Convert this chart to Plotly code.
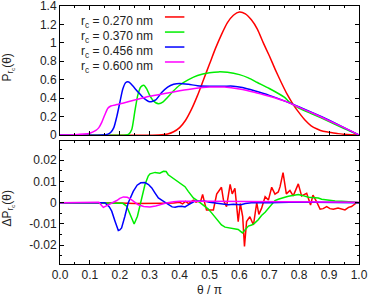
import plotly.graph_objects as go

# ---------------- data ----------------
labels = ["r<sub>c</sub> = 0.270 nm", "r<sub>c</sub> = 0.370 nm",
          "r<sub>c</sub> = 0.456 nm", "r<sub>c</sub> = 0.600 nm"]
colors = ["#ff0000", "#00ee00", "#0000ff", "#ff00ff"]

# top panel: P_rc(theta)
red_x = [0, 0.33, 0.36, 0.38, 0.40, 0.42, 0.44, 0.46, 0.48, 0.50, 0.52, 0.54, 0.56, 0.58, 0.60,
         0.62, 0.64, 0.66, 0.68, 0.70, 0.72, 0.74, 0.76, 0.78, 0.80, 0.82, 0.84, 0.86, 0.88,
         0.90, 0.93, 0.96, 1.0]
red_y = [0, 0, 0.01, 0.035, 0.08, 0.16, 0.28, 0.43, 0.60, 0.77, 0.94, 1.09, 1.22, 1.30, 1.335,
         1.315, 1.25, 1.15, 1.00, 0.86, 0.71, 0.57, 0.44, 0.33, 0.24, 0.16, 0.10, 0.065, 0.04,
         0.03, 0.015, 0.005, 0]

green_x = [0, 0.22, 0.23, 0.24, 0.25, 0.26, 0.27, 0.28, 0.29, 0.30, 0.31, 0.32, 0.33, 0.345,
           0.36, 0.38, 0.40, 0.43, 0.46, 0.50, 0.53, 0.56, 0.60, 0.63, 0.66, 0.70, 0.75, 0.77,
           0.80, 0.85, 0.90, 0.95, 1.0]
green_y = [0, 0, 0.01, 0.06, 0.25, 0.43, 0.52, 0.54, 0.50, 0.43, 0.38, 0.35, 0.34, 0.36,
           0.41, 0.48, 0.54, 0.60, 0.645, 0.675, 0.685, 0.68, 0.655, 0.62, 0.57, 0.505, 0.41, 0.35,
           0.29, 0.22, 0.145, 0.07, 0]

blue_x = [0, 0.14, 0.16, 0.17, 0.18, 0.19, 0.20, 0.21, 0.22, 0.23, 0.24, 0.26, 0.28, 0.30,
          0.32, 0.34, 0.36, 0.38, 0.40, 0.43, 0.46, 0.50, 0.55, 0.58, 0.61, 0.65, 0.70, 0.75,
          0.80, 0.85, 0.90, 0.95, 1.0]
blue_y = [0, 0, 0.01, 0.03, 0.08, 0.2, 0.35, 0.5, 0.57, 0.575, 0.545, 0.47, 0.40, 0.36,
          0.38, 0.46, 0.52, 0.55, 0.56, 0.55, 0.535, 0.53, 0.53, 0.53, 0.515, 0.48, 0.43, 0.37,
          0.305, 0.235, 0.16, 0.08, 0]

mag_x = [0, 0.05, 0.08, 0.10, 0.12, 0.13, 0.14, 0.15, 0.16, 0.17, 0.19, 0.21, 0.25, 0.30,
         0.35, 0.40, 0.45, 0.50, 0.55, 0.60, 0.65, 0.70, 0.75, 0.80, 0.85, 0.90, 0.95, 1.0]
mag_y = [0, 0.003, 0.01, 0.02, 0.05, 0.08, 0.14, 0.22, 0.29, 0.315, 0.33, 0.345, 0.38, 0.42,
         0.45, 0.48, 0.505, 0.52, 0.52, 0.50, 0.465, 0.42, 0.37, 0.30, 0.23, 0.155, 0.08, 0]

# bottom panel: Delta P_rc(theta)
dred_x = [0, 0.15, 0.2, 0.25, 0.3, 0.35, 0.38, 0.40, 0.41, 0.42, 0.43, 0.44, 0.446, 0.455, 0.462,
          0.47, 0.477, 0.485, 0.49, 0.50, 0.513, 0.524, 0.54, 0.547, 0.557, 0.569, 0.576, 0.585,
          0.596, 0.603, 0.611, 0.617, 0.624, 0.635, 0.647, 0.658, 0.665, 0.674, 0.686, 0.697,
          0.708, 0.719, 0.73, 0.736, 0.746, 0.757, 0.769, 0.78, 0.797, 0.808, 0.825, 0.838,
          0.846, 0.858, 0.87, 0.88, 0.892, 0.903, 0.914, 0.93, 0.942, 0.953, 0.965, 0.975,
          0.992, 1.0]
dred_y = [0, 0.0, -0.0002, -0.0004, -0.0005, -0.0003, -0.0002, 0.0002, -0.0006, 0.0006, -0.0004,
          0.0008, 0.0012, 0.0002, 0.0006, 0.0005, 0.0039, -0.0008, -0.0034, -0.0034, -0.0034,
          0.004, 0.0072, 0.001, -0.0019, 0.0086, 0.0041, 0.0067, -0.0089, -0.0004, -0.0066,
          -0.0206, -0.0089, -0.0066, -0.0105, 0.0, -0.0055, -0.0027, 0.0028, 0.0012, 0.0072,
          0.0040, 0.005, 0.0075, 0.0141, 0.0041, 0.0057, 0.0032, 0.0088, 0.0032, 0.0044,
          -0.0011, 0.0035, 0.0005, -0.0031, -0.0028, -0.0019, -0.0028, -0.0031, -0.0025,
          -0.0028, -0.0034, -0.0022, -0.0018, 0.0, 0]

dgreen_x = [0, 0.2, 0.21, 0.223, 0.237, 0.248, 0.259, 0.271, 0.284, 0.295, 0.301, 0.318, 0.334,
            0.346, 0.355, 0.362, 0.373, 0.385, 0.396, 0.407, 0.418, 0.429, 0.446, 0.463, 0.475,
            0.485, 0.496, 0.507, 0.518, 0.529, 0.54, 0.552, 0.563, 0.574, 0.585, 0.596, 0.61,
            0.62, 0.63, 0.641, 0.652, 0.663, 0.674, 0.686, 0.697, 0.708, 0.719, 0.73, 0.741,
            0.752, 0.764, 0.775, 0.786, 0.797, 0.81, 0.82, 0.831, 0.842, 0.853, 0.864, 0.875,
            0.887, 0.898, 0.92, 0.942, 0.96, 0.976, 0.99, 1.0]
dgreen_y = [0, 0, -0.0003, -0.0017, -0.0064, -0.0100, -0.0064, 0.0014, 0.0084, 0.0125, 0.0135,
            0.0142, 0.0138, 0.0147, 0.0146, 0.0131, 0.012, 0.0108, 0.0098, 0.0084, 0.0075,
            0.0053, 0.0022, 0.0006, -0.0008, -0.0017, -0.003, -0.0048, -0.0068, -0.0087,
            -0.0105, -0.0115, -0.0118, -0.0122, -0.0122, -0.0126, -0.0142, -0.0125, -0.011,
            -0.0105, -0.0095, -0.0080, -0.0060, -0.0045, -0.0025, -0.0005, 0.001, 0.0016,
            0.0022, 0.0025, 0.003, 0.0032, 0.0036, 0.0038, 0.0034, 0.0028, 0.0025, 0.0024,
            0.0024, 0.0022, 0.0016, 0.0013, 0.0011, 0.0008, 0.0006, 0.0005, 0.0006, 0.0002, 0]

dblue_x = [0, 0.12, 0.15, 0.165, 0.173, 0.184, 0.195, 0.2, 0.206, 0.217, 0.228, 0.245, 0.258,
           0.27, 0.284, 0.296, 0.307, 0.318, 0.329, 0.34, 0.351, 0.362, 0.375, 0.385, 0.395,
           0.407, 0.418, 0.429, 0.44, 0.45, 0.47, 0.485, 0.5, 0.518, 0.54, 0.563, 0.58, 0.605,
           0.62, 0.64, 0.7, 0.75, 0.8, 0.85, 0.9, 1.0]
dblue_y = [0, 0.0002, 0.0, -0.002, -0.004, -0.0087, -0.0131, -0.0128, -0.0119, -0.0064, -0.0002,
           0.0053, 0.0082, 0.0093, 0.0094, 0.0085, 0.0069, 0.0045, 0.0022, 0.0012, 0.0001,
           -0.001, -0.002, -0.0022, -0.0018, -0.0017, -0.0020, -0.001, -0.0003, 0.0006, 0.0006,
           0.0006, 0.0002, -0.0002, -0.0006, -0.001, -0.0008, -0.001, -0.0004, 0.0, 0.0, 0.0003,
           0.0003, 0.0002, 0.0001, 0]

dmag_x = [0, 0.10, 0.12, 0.13, 0.14, 0.145, 0.155, 0.167, 0.18, 0.19, 0.20, 0.212, 0.225, 0.235,
          0.25, 0.262, 0.28, 0.30, 0.32, 0.34, 0.36, 0.38, 0.40, 0.5, 0.6, 0.7, 0.8, 0.9, 1.0]
dmag_y = [0, 0.0003, 0.0005, 0.0002, -0.0015, -0.0022, -0.0015, -0.0008, 0.0003, 0.001, 0.002,
          0.0027, 0.0025, 0.0018, 0.0, -0.001, -0.0018, -0.002, -0.0016, -0.0008, 0.0, 0.0004,
          0.0006, 0.0006, 0.0005, 0.0004, 0.0004, 0.0003, 0.0002]

x_ticks = [0.0, 0.1, 0.2, 0.3, 0.4, 0.5, 0.6, 0.7, 0.8, 0.9, 1.0]
x_ticktext = ["0.0", "0.1", "0.2", "0.3", "0.4", "0.5", "0.6", "0.7", "0.8", "0.9", "1.0"]
top_yticks = [0, 0.2, 0.4, 0.6, 0.8, 1.0, 1.2, 1.4]
top_yticktext = ["0", "0.2", "0.4", "0.6", "0.8", "1", "1.2", "1.4"]
bot_yticks = [-0.02, -0.01, 0, 0.01, 0.02]
bot_yticktext = ["-0.02", "-0.01", "0", "0.01", "0.02"]

# ---------------- figure ----------------
FONT = "Liberation Sans, Arial, sans-serif"
TXT = "#222222"
fig = go.Figure()

top = [(red_x, red_y), (green_x, green_y), (blue_x, blue_y), (mag_x, mag_y)]
bot = [(dred_x, dred_y), (dgreen_x, dgreen_y), (dblue_x, dblue_y), (dmag_x, dmag_y)]
for (x, y), c in zip(top, colors):
    fig.add_trace(go.Scatter(x=x, y=y, mode="lines", xaxis="x", yaxis="y",
                             line=dict(color=c, width=1.5, shape="spline", smoothing=0.6),
                             showlegend=False, hoverinfo="skip"))
for (x, y), c in zip(bot, colors):
    fig.add_trace(go.Scatter(x=x, y=y, mode="lines", xaxis="x2", yaxis="y2",
                             line=dict(color=c, width=1.5),
                             showlegend=False, hoverinfo="skip"))

axis_common = dict(showline=True, linecolor="black", linewidth=1, mirror="ticks",
                   ticks="inside", tickcolor="black", ticklen=4, tickwidth=1,
                   showgrid=False, zeroline=False, automargin=False,
                   ticklabeloverflow="allow",
                   tickfont=dict(family=FONT, size=12, color=TXT))

fig.update_layout(
    template="none",
    width=374, height=308,
    margin=dict(l=60, r=15, t=6, b=44, autoexpand=False),
    paper_bgcolor="white", plot_bgcolor="white",
    font=dict(family=FONT, size=12, color=TXT),
    xaxis=dict(domain=[0, 1], anchor="y", range=[0, 1], tickvals=x_ticks,
               showticklabels=False,
               minor=dict(ticks="inside", dtick=0.05, ticklen=2, tickcolor="black"),
               **axis_common),
    yaxis=dict(domain=[0.5, 1.0], anchor="x", range=[0, 1.4], tickvals=top_yticks,
               ticktext=top_yticktext, **axis_common),
    xaxis2=dict(domain=[0, 1], anchor="y2", range=[0, 1], tickvals=x_ticks,
                ticktext=x_ticktext,
                minor=dict(ticks="inside", dtick=0.05, ticklen=2, tickcolor="black"),
                title=dict(text="θ / π", font=dict(family=FONT, size=12, color=TXT),
                           standoff=4),
                **axis_common),
    yaxis2=dict(domain=[0, 0.4756], anchor="x2", range=[-0.0288, 0.0288],
                tickvals=bot_yticks, ticktext=bot_yticktext,
                minor=dict(ticks="inside", dtick=0.005, ticklen=2, tickcolor="black"),
                **axis_common),
)

# y-axis titles
fig.add_annotation(text="P<sub>r<sub>c</sub></sub>(θ)", xref="paper", yref="y domain",
                   x=-0.175, y=0.52, textangle=-90, showarrow=False,
                   xanchor="center", yanchor="middle",
                   font=dict(family=FONT, size=12, color=TXT))
fig.add_annotation(text="ΔP<sub>r<sub>c</sub></sub>(θ)", xref="paper", yref="y2 domain",
                   x=-0.175, y=0.45, textangle=-90, showarrow=False,
                   xanchor="center", yanchor="middle",
                   font=dict(family=FONT, size=12, color=TXT))

# legend (gnuplot style: text right aligned, sample line to the right)
rows = [0.915, 0.798, 0.682, 0.566]
for lab, c, yy in zip(labels, colors, rows):
    fig.add_annotation(text=lab, xref="x domain", yref="y domain", x=0.318, y=yy,
                       xanchor="right", yanchor="middle", showarrow=False, yshift=-5,
                       font=dict(family=FONT, size=12, color=TXT))
    fig.add_shape(type="line", xref="x domain", yref="y domain",
                  x0=0.351, x1=0.416, y0=yy, y1=yy, line=dict(color=c, width=1.5))

# remove the default page margin so the figure sits at the window's top-left corner
fig.write_html("out.html", config={"displayModeBar": False},
               post_script="document.body.style.margin='0';document.body.style.padding='0';")
